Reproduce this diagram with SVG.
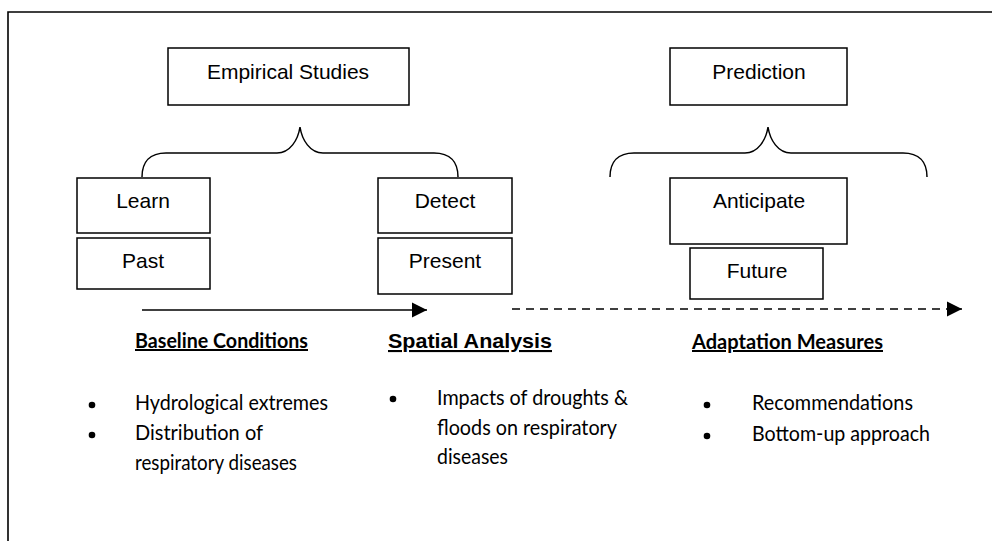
<svg xmlns="http://www.w3.org/2000/svg" width="992" height="541" viewBox="0 0 992 541">
<defs>
<style>
.box{fill:#fff;stroke:#000;stroke-width:1.5}
.lbl{font-family:"Liberation Sans",Arial,sans-serif;font-size:21px;fill:#000;text-anchor:middle}
.head{font-family:Lato,"Open Sans",sans-serif;font-size:20px;font-weight:bold;fill:#000;text-decoration:underline}
.headA{font-family:"Liberation Sans",Arial,sans-serif;font-size:21px;font-weight:bold;fill:#000;text-decoration:underline}
.body{font-family:Lato,"Open Sans",sans-serif;font-size:20.5px;fill:#000}
.brace{fill:none;stroke:#000;stroke-width:1.5}
.ln{fill:none;stroke:#000;stroke-width:1.5}
</style>
<marker id="ah" markerWidth="16" markerHeight="16" refX="15" refY="8" orient="auto" markerUnits="userSpaceOnUse">
<path d="M0,0.5 L15,8 L0,15.5 Z" fill="#000"/>
</marker>
</defs>
<rect width="992" height="541" fill="#fff"/>
<path d="M8,545 L8,12 L996,12" fill="none" stroke="#000" stroke-width="1.6"/>

<g id="empirical"><rect class="box" x="168" y="48" width="241" height="57"/><text class="lbl" x="288" y="79">Empirical Studies</text></g>
<g id="prediction"><rect class="box" x="670" y="48" width="177" height="57"/><text class="lbl" x="759" y="79">Prediction</text></g>
<g id="learn"><rect class="box" x="77" y="178" width="133" height="55"/><text class="lbl" x="143" y="208">Learn</text></g>
<g id="past"><rect class="box" x="77" y="238" width="133" height="51"/><text class="lbl" x="143" y="268">Past</text></g>
<g id="detect"><rect class="box" x="378" y="178" width="134" height="55"/><text class="lbl" x="445" y="208">Detect</text></g>
<g id="present"><rect class="box" x="378" y="238" width="134" height="56"/><text class="lbl" x="445" y="268">Present</text></g>
<g id="anticipate"><rect class="box" x="670" y="178" width="177" height="66"/><text class="lbl" x="759" y="208">Anticipate</text></g>
<g id="future"><rect class="box" x="690" y="248" width="133" height="51"/><text class="lbl" x="757" y="278">Future</text></g>

<g id="connectors">
<path class="brace" d="M142,177 C142,162 150,153 166,153 L277,153 C290,153 298,140 300,127 C302,140 310,153 323,153 L434,153 C450,153 458,162 458,177"/>
<path class="brace" d="M610,177 C610,162 618,153 634,153 L745,153 C758,153 766,140 768,127 C770,140 778,153 791,153 L903,153 C919,153 927,162 927,177"/>
<line class="ln" x1="142" y1="310" x2="427" y2="310" marker-end="url(#ah)"/>
<line class="ln" x1="512" y1="309" x2="962" y2="309" stroke-dasharray="8 6" stroke-width="1.7" marker-end="url(#ah)"/>
</g>

<g id="baseline">
<text class="head" x="135" y="348" textLength="173" lengthAdjust="spacingAndGlyphs">Baseline Conditions</text>
<circle cx="92" cy="405" r="3.3"/>
<circle cx="92" cy="435" r="3.3"/>
<text class="body" x="135" y="410" textLength="193" lengthAdjust="spacingAndGlyphs">Hydrological extremes</text>
<text class="body" x="135" y="440" textLength="128" lengthAdjust="spacingAndGlyphs">Distribution of</text>
<text class="body" x="135" y="470" textLength="162" lengthAdjust="spacingAndGlyphs">respiratory diseases</text>
</g>
<g id="spatial">
<text class="headA" x="388" y="348" textLength="164" lengthAdjust="spacingAndGlyphs">Spatial Analysis</text>
<circle cx="393" cy="399" r="3.3"/>
<text class="body" x="437" y="405" textLength="191" lengthAdjust="spacingAndGlyphs">Impacts of droughts &amp;</text>
<text class="body" x="437" y="435" textLength="180" lengthAdjust="spacingAndGlyphs">floods on respiratory</text>
<text class="body" x="437" y="464" textLength="71" lengthAdjust="spacingAndGlyphs">diseases</text>
</g>
<g id="adaptation">
<text class="head" x="692" y="349" textLength="191" lengthAdjust="spacingAndGlyphs">Adaptation Measures</text>
<circle cx="707" cy="405" r="3.3"/>
<circle cx="707" cy="436" r="3.3"/>
<text class="body" x="752" y="410" textLength="161" lengthAdjust="spacingAndGlyphs">Recommendations</text>
<text class="body" x="752" y="441" textLength="178" lengthAdjust="spacingAndGlyphs">Bottom-up approach</text>
</g>
</svg>
